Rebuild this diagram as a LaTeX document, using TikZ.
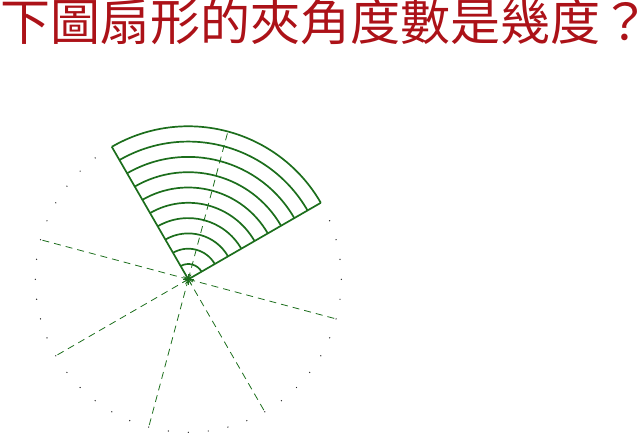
\documentclass[tikz,border=0pt]{standalone}
\usepackage{fontspec}
\newfontfamily\cjk{Noto Sans CJK TC}
\definecolor{titlered}{RGB}{172,18,24}
\definecolor{sgreen}{RGB}{28,110,28}
\begin{document}
\begin{tikzpicture}[x=1pt,y=1pt,
  arcline/.style={draw=sgreen, line width=1.7pt},
  edgeline/.style={draw=sgreen, line width=1.7pt},
  radline/.style={draw=sgreen, line width=0.8pt, dash pattern=on 7pt off 5pt},
  spoke/.style={draw=sgreen, line width=0.8pt},
  circdot/.style={fill=black!85}]
\useasboundingbox (0,-433) rectangle (639,0);
\node[anchor=base west, inner sep=0pt, text height=38pt, text depth=8pt, text=titlered, font=\cjk\fontsize{50pt}{50pt}\selectfont] (title) at (0.5,-41) {下圖扇形的夾角度數是幾度\makebox[0.74em][l]{？}};
\coordinate (O) at (188.3,-279.3);
% dotted circle
\foreach \k in {17,...,51} {
  \fill[circdot, shift={(O)}] (\k*7.5:153) circle (0.7pt);
}
% dashed radii
\foreach \a in {75,165,210,255,300,345} {
  \path[radline, shift={(O)}] (0,0) -- (\a:153);
}
% star at centre
\foreach \a in {0,30,...,330} {
  \path[spoke, shift={(O)}] (0,0) -- (\a:5.5);
}
% concentric arcs
\foreach \k in {1,...,10} {
  \pgfmathsetmacro{\r}{15.3*\k}
  \path[arcline, shift={(O)}] (30:\r) arc[start angle=30, end angle=120, radius=\r];
}
% sector edges
\path[edgeline, shift={(O)}] (120:153) -- (0,0) -- (30:153);
\end{tikzpicture}
\end{document}
